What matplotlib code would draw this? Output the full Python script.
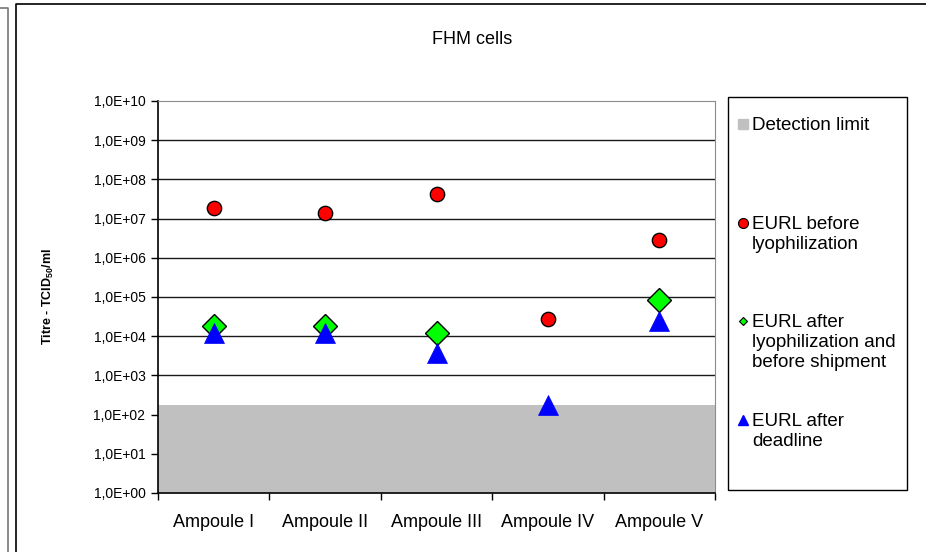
import numpy as np
import matplotlib
matplotlib.use('Agg')
import matplotlib.pyplot as plt
from matplotlib.lines import Line2D
from matplotlib.patches import Rectangle
from matplotlib.ticker import FixedLocator, NullLocator

plt.rcParams['font.family'] = ['Liberation Sans', 'DejaVu Sans']
plt.rcParams['mathtext.fontset'] = 'custom'
plt.rcParams['mathtext.rm'] = 'Liberation Sans:bold'
plt.rcParams['mathtext.default'] = 'rm'

# data
categories = ['Ampoule I', 'Ampoule II', 'Ampoule III', 'Ampoule IV', 'Ampoule V']
before_lyo = [1.9e7, 1.35e7, 4.2e7, 2.75e4, 2.85e6]
after_lyo = [1.85e4, 1.85e4, 1.2e4, np.nan, 8.4e4]
after_deadline = [1.2e4, 1.2e4, 3.8e3, 1.8e2, 2.5e4]
detection_limit = 1.8e2
decades = list(range(0, 11))
legend_labels = ['Detection limit', 'EURL before\nlyophilization',
                 'EURL after\nlyophilization and\nbefore shipment',
                 'EURL after\ndeadline']

W, H = 926, 552
fig = plt.figure(figsize=(W / 100, H / 100), dpi=100)
ax = fig.add_axes([158 / W, 1 - 493 / H, (715 - 158) / W, (493 - 101) / H])

x = np.arange(len(categories))
ax.set_yscale('log')
ax.set_ylim(1, 1e10)
ax.set_xlim(-0.5, len(categories) - 0.5)

# grid
for k in decades[1:-1]:
    ax.axhline(10.0 ** k, color='#1a1a1a', lw=1, zorder=1)

# detection limit area
ax.fill_between([-0.5, len(categories) - 0.5], 1, detection_limit,
                color='#c0c0c0', lw=0, zorder=2)

ax.plot(x, before_lyo, 'o', ms=10.3, mfc='#ff0000', mec='black', mew=1, zorder=4)
ax.plot(x, after_lyo, 'D', ms=12, mfc='#00ff00', mec='black', mew=1, zorder=4)
ax.plot(x, after_deadline, '^', ms=14.4, mfc='#0000ff', mec='#0000ff', mew=0.5, zorder=5)

# y axis
ax.yaxis.set_major_locator(FixedLocator([10.0 ** k for k in decades]))
ax.yaxis.set_minor_locator(NullLocator())
ax.set_yticklabels(['1,0E+%02d' % k for k in decades], fontsize=10)
ax.tick_params(axis='y', which='major', length=5, width=1, pad=4, direction='out')
ax.set_ylabel(r'Titre - TCID$_{50}$/ml', fontsize=9, fontweight='bold', labelpad=27)

# x axis
ax.set_xticks(x)
ax.set_xticklabels(categories, fontsize=13)
ax.tick_params(axis='x', which='major', length=0, pad=15)
ax.set_xticks(np.arange(-0.5, len(categories)), minor=True)
ax.tick_params(axis='x', which='minor', length=5, width=1, direction='out')

for s in ['top', 'right']:
    ax.spines[s].set_color('#8c8c8c')
for s in ['left', 'bottom']:
    ax.spines[s].set_color('black')
    ax.spines[s].set_linewidth(1.2)

fig.text(472 / W, 1 - 39 / H, 'FHM cells', ha='center', va='center', fontsize=13)

# legend drawn by hand
fig.add_artist(Rectangle((728 / W, 1 - 490 / H), 179 / W, 393 / H,
                         transform=fig.transFigure, fill=False, ec='black', lw=1))
leg_y = [124, 223, 321, 420]
leg_style = [dict(marker='s', ms=6.5, mfc='#c0c0c0', mec='#c0c0c0'),
             dict(marker='o', ms=7.2, mfc='#ff0000', mec='black', mew=0.8),
             dict(marker='D', ms=4.5, mfc='#00ff00', mec='black', mew=0.8),
             dict(marker='^', ms=7.8, mfc='#0000ff', mec='#0000ff')]
for lab, yy, st in zip(legend_labels, leg_y, leg_style):
    fig.add_artist(Line2D([743 / W], [1 - yy / H], transform=fig.transFigure,
                          ls='none', **st))
    fig.text(752 / W, 1 - (yy - 7) / H, lab, ha='left', va='top',
             fontsize=13.5, linespacing=1.23)

# outer frames
fig.add_artist(Line2D([16 / W, 16 / W, 1], [0, 1 - 4 / H, 1 - 4 / H],
                      transform=fig.transFigure, color='black', lw=1.2))
fig.add_artist(Line2D([0, 8 / W, 8 / W], [1 - 8 / H, 1 - 8 / H, 0],
                      transform=fig.transFigure, color='#777777', lw=1.2))

fig.savefig('out.png', dpi=100)
